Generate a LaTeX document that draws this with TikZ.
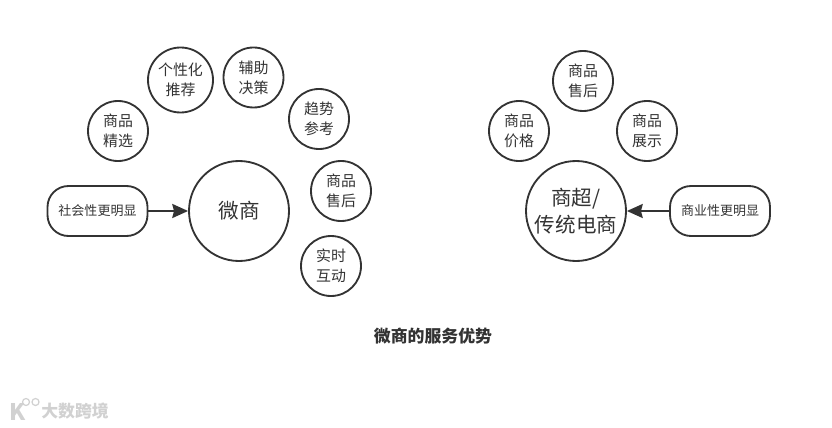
\documentclass[tikz,border=0pt]{standalone}
\usepackage{fontspec}
\setmainfont{Noto Sans CJK SC}
\usetikzlibrary{arrows.meta}
\definecolor{linegray}{HTML}{333333}
\tikzset{
  small/.style={draw=linegray,line width=1.05pt,circle,minimum size=1.2cm,inner sep=0pt,align=center,text=linegray,font=\fontsize{8.5}{11.4}\selectfont},
  big/.style={draw=linegray,line width=1.05pt,circle,minimum size=2cm,inner sep=0pt,align=center,text=linegray,font=\fontsize{11.7}{15}\selectfont},
  pill/.style={draw=linegray,line width=1.05pt,rounded corners=0.42cm,minimum width=2cm,minimum height=1cm,inner sep=0pt,text=linegray,font=\fontsize{7.4}{9}\selectfont},
  link/.style={draw=linegray,line width=1.1pt,-{Stealth[length=9pt,width=8pt,inset=1pt]}}
}
\begin{document}
\begin{tikzpicture}
    \useasboundingbox (0,0) rectangle (16.64,8.54);
    % left group
    \node[big] (weishang) at (4.78,4.32) {微商};
    \node[pill] (social) at (1.95,4.32) {社会性更明显};
    \node[small] (select) at (2.36,5.92) {商品\\精选};
    \node[small,minimum size=1.3cm] (person) at (3.61,6.94) {个性化\\推荐};
    \node[small] (assist) at (5.07,6.99) {辅助\\决策};
    \node[small] (trend) at (6.38,6.16) {趋势\\参考};
    \node[small] (after) at (6.82,4.72) {商品\\售后};
    \node[small] (live) at (6.62,3.22) {实时\\互动};
    \draw[link] (social) -- (weishang);
    % right group
    \node[big] (shangchao) at (11.52,4.32) {商超/\\传统电商};
    \node[pill] (business) at (14.40,4.32) {商业性更明显};
    \node[small] (price) at (10.38,5.92) {商品\\价格};
    \node[small] (service) at (11.66,6.92) {商品\\售后};
    \node[small] (show) at (12.94,5.92) {商品\\展示};
    \draw[link] (business) -- (shangchao);
    % title
    \node[text=linegray,font=\fontsize{9.6}{11}\selectfont\bfseries] (title) at (8.66,1.82) {微商的服务优势};
    % watermark
    \node[text=black!18,font=\fontsize{9.6}{11}\selectfont\bfseries] (mark) at (1.50,0.31) {大数跨境};
    \node[text=black!18,font=\fontsize{13}{14}\selectfont\bfseries] (logo) at (0.36,0.31) {K};
    \draw[black!18,line width=0.7pt] (0.52,0.50) circle (0.07) (0.71,0.50) circle (0.07);
\end{tikzpicture}
\end{document}
